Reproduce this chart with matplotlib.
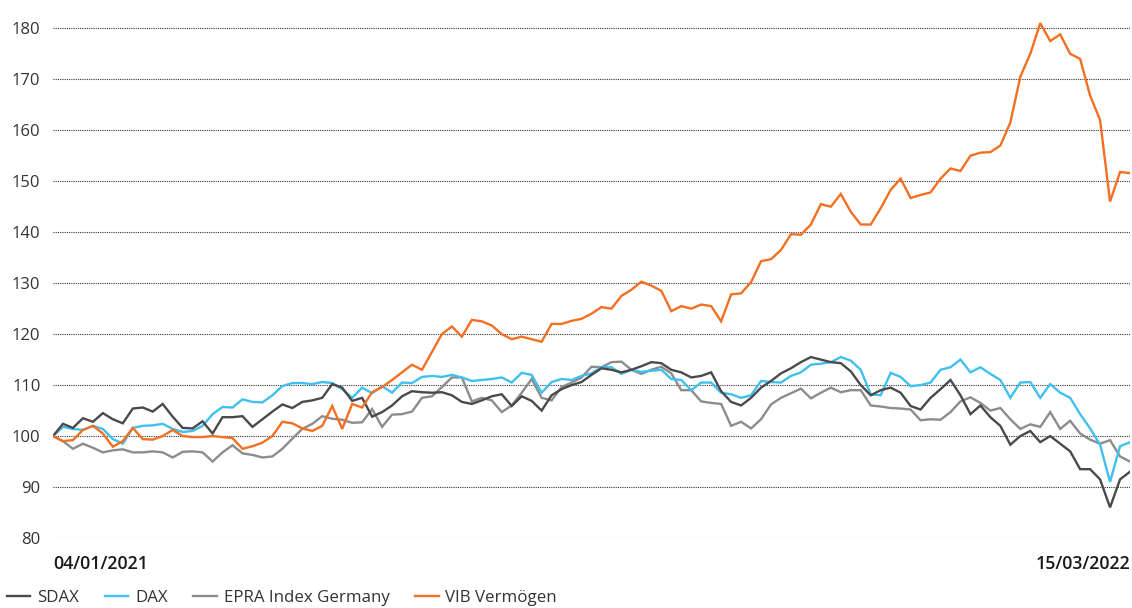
import matplotlib
matplotlib.use("Agg")
import matplotlib.pyplot as plt
import numpy as np

plt.rcParams['font.family'] = ['Open Sans', 'DejaVu Sans']

series_names = ["SDAX", "DAX", "EPRA Index Germany", "VIB Vermögen"]
date_labels = ["04/01/2021", "15/03/2022"]
y_ticks = [80, 90, 100, 110, 120, 130, 140, 150, 160, 170, 180]

sdax = [100, 102.4, 101.6, 103.5, 102.8, 104.5, 103.3, 102.5, 105.4, 105.6,
        104.8, 106.3, 103.8, 101.6, 101.5, 102.9, 100.5, 103.7, 103.7, 103.9,
        101.8, 103.3, 104.8, 106.2, 105.5, 106.7, 107.0, 107.5, 110.2, 109.5,
        106.9, 107.5, 103.8, 104.7, 106.0, 107.8, 108.8, 108.6, 108.5, 108.6,
        108.0, 106.7, 106.3, 107.0, 107.8, 108.2, 105.9, 107.8, 106.9, 105.0,
        108.0, 109.2, 110.0, 110.6, 112.0, 113.3, 113.0, 112.5, 113.0, 113.7,
        114.5, 114.3, 113.0, 112.5, 111.5, 111.8, 112.5, 108.8, 106.7, 106.0,
        107.5, 109.5, 110.8, 112.3, 113.3, 114.5, 115.5, 115.0, 114.5, 114.3,
        112.7, 110.0, 108.0, 109.0, 109.5, 108.5, 105.9, 105.2, 107.5, 109.2,
        111.0, 108.0, 104.3, 106.0, 103.7, 102.0, 98.3, 100.0, 101.0, 98.8,
        100.0, 98.5, 97.0, 93.5, 93.5, 91.5, 86.0, 91.5, 93.0]

dax = [100, 101.8, 101.4, 101.2, 102.0, 101.4, 99.4, 98.5, 101.6, 102.0,
       102.1, 102.4, 101.4, 100.8, 101.0, 102.0, 104.3, 105.7, 105.6, 107.2,
       106.7, 106.6, 108.0, 109.8, 110.4, 110.4, 110.2, 110.6, 110.4, 109.2,
       107.5, 109.5, 108.4, 109.8, 108.5, 110.5, 110.4, 111.6, 111.8, 111.6,
       112.0, 111.5, 110.8, 111.0, 111.2, 111.5, 110.5, 112.4, 112.0, 108.5,
       110.6, 111.2, 111.0, 111.8, 112.3, 113.5, 113.5, 112.2, 113.0, 112.6,
       112.8, 113.0, 111.2, 111.0, 109.0, 110.5, 110.5, 108.5, 108.2, 107.5,
       108.0, 110.8, 110.6, 110.5, 111.8, 112.5, 114.0, 114.2, 114.5, 115.5,
       114.8, 113.0, 108.2, 108.0, 112.4, 111.6, 109.8, 110.0, 110.5, 113.0,
       113.5, 115.0, 112.5, 113.5, 112.2, 111.0, 107.5, 110.5, 110.6, 107.5,
       110.2, 108.5, 107.5, 104.3, 101.5, 98.3, 91.0, 98.0, 98.8]

epra = [100, 99.0, 97.5, 98.5, 97.7, 96.8, 97.2, 97.4, 96.8, 96.8,
        97.0, 96.8, 95.8, 96.9, 97.0, 96.8, 95.0, 96.8, 98.2, 96.6,
        96.3, 95.8, 96.0, 97.5, 99.5, 101.4, 102.4, 103.9, 103.4, 103.2,
        102.6, 102.7, 105.3, 101.8, 104.2, 104.3, 104.8, 107.5, 107.8, 109.6,
        111.5, 111.5, 106.8, 107.5, 107.0, 104.7, 106.0, 108.5, 111.2, 107.5,
        107.0, 109.6, 110.5, 111.5, 113.6, 113.5, 114.5, 114.6, 113.0, 112.2,
        113.0, 113.6, 112.3, 109.0, 109.0, 106.8, 106.5, 106.3, 102.0, 102.8,
        101.5, 103.3, 106.2, 107.5, 108.4, 109.3, 107.4, 108.5, 109.5, 108.6,
        109.0, 109.0, 106.0, 105.8, 105.5, 105.4, 105.2, 103.1, 103.3, 103.2,
        104.7, 106.8, 107.6, 106.5, 105.0, 105.5, 103.3, 101.4, 102.3, 101.8,
        104.7, 101.4, 103.0, 100.5, 99.3, 98.5, 99.2, 96.0, 95.0]

vib = [100, 99.0, 99.2, 101.2, 102.0, 100.5, 97.9, 99.0, 101.6, 99.4,
       99.3, 100.0, 101.2, 100.0, 99.8, 99.8, 100.0, 99.8, 99.6, 97.5,
       98.0, 98.7, 100.0, 102.8, 102.5, 101.5, 101.0, 102.0, 105.9, 101.4,
       106.3, 105.6, 108.6, 109.6, 111.0, 112.5, 114.0, 113.0, 116.5, 120.0,
       121.5, 119.5, 122.8, 122.5, 121.7, 120.0, 119.0, 119.5, 119.0, 118.5,
       122.0, 122.0, 122.6, 123.0, 124.0, 125.3, 125.0, 127.5, 128.7, 130.3,
       129.5, 128.5, 124.5, 125.5, 125.0, 125.8, 125.5, 122.5, 127.8, 128.0,
       130.2, 134.3, 134.7, 136.5, 139.6, 139.5, 141.5, 145.5, 145.0, 147.5,
       144.0, 141.5, 141.5, 144.7, 148.3, 150.5, 146.7, 147.3, 147.8, 150.5,
       152.5, 152.0, 155.0, 155.6, 155.7, 157.0, 161.5, 170.5, 175.0, 181.0,
       177.5, 178.8, 175.0, 174.0, 166.8, 162.0, 146.0, 151.8, 151.6]

colors = {"SDAX": "#4a4a4a", "DAX": "#3fc0ee", "EPRA Index Germany": "#8c8c8c",
          "VIB Vermögen": "#f36f21"}
data = {"SDAX": sdax, "DAX": dax, "EPRA Index Germany": epra, "VIB Vermögen": vib}

fig = plt.figure(figsize=(11.32, 6.08), dpi=100)
ax = fig.add_axes([53/1132, 70/608, 1077/1132, 525/608])

n = len(sdax)
x = np.arange(n)
handles = {}
for name in ["EPRA Index Germany", "DAX", "SDAX", "VIB Vermögen"]:
    h, = ax.plot(x, data[name], color=colors[name], lw=1.7, solid_joinstyle='miter')
    handles[name] = h

ax.set_xlim(0, n - 1)
ax.set_ylim(80, 183)
ax.set_yticks(y_ticks)
ax.set_yticklabels([str(v) for v in y_ticks])
for s in ax.spines.values():
    s.set_visible(False)
ax.grid(axis='y', linestyle=(0, (1, 1)), color='#333333', lw=0.8)
ax.set_axisbelow(True)
ax.tick_params(axis='y', length=0, pad=9, labelsize=12, labelcolor='#333333')

ax.set_xticks([0, n - 1])
ax.set_xticklabels(date_labels)
ax.tick_params(axis='x', length=0, pad=12, labelsize=12.8, labelcolor='#1a1a1a')
xt = ax.get_xticklabels()
xt[0].set_ha('left')
xt[0].set_fontweight('semibold')
xt[1].set_ha('right')
xt[1].set_fontweight('semibold')

fig.legend([handles[n_] for n_ in series_names], series_names,
           loc='lower left', bbox_to_anchor=(-0.003, -0.014), ncol=4, frameon=False,
           fontsize=12.2, handlelength=1.4, handletextpad=0.4, columnspacing=1.5,
           labelcolor='#333333', borderaxespad=0.2)

fig.savefig("out.png", dpi=100)
